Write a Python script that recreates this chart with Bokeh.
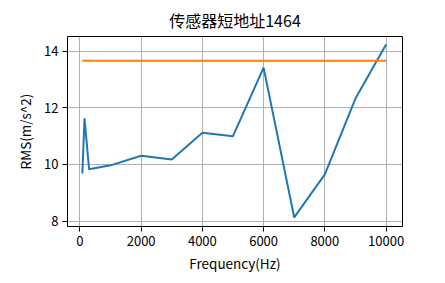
from bokeh.plotting import figure
from bokeh.models import Range1d, FixedTicker
from bokeh.embed import file_html
from bokeh.resources import INLINE

freq = [80, 150, 300, 1000, 2000, 3000, 4000, 5000, 6000, 7000, 8000, 9000, 10000]
rms = [9.68, 11.63, 9.83, 9.97, 10.31, 10.18, 11.12, 11.0, 13.42, 8.13, 9.65, 12.33, 14.24]
threshold = 13.66
x_ticks = [0, 2000, 4000, 6000, 8000, 10000]
y_ticks = [8, 10, 12, 14]

FONT = "Noto Sans CJK SC"

p = figure(width=445, height=283, output_backend="svg", toolbar_location=None,
           x_range=Range1d(-406, 10537), y_range=Range1d(7.81, 14.52),
           min_border_left=67, min_border_right=43, min_border_top=34, min_border_bottom=57)

p.title.text = "传感器短地址1464"
p.title.align = "center"
p.title.text_font = FONT
p.title.text_font_size = "16px"
p.title.text_font_style = "normal"
p.title.text_color = "black"

p.line(freq, rms, line_color="#1f77b4", line_width=2)
p.line([freq[0], freq[-1]], [threshold, threshold], line_color="#ff7f0e", line_width=2)

for ax in (p.xaxis[0], p.yaxis[0]):
    ax.major_label_text_font = FONT
    ax.major_label_text_font_size = "13px"
    ax.major_label_text_color = "black"
    ax.axis_label_text_font = FONT
    ax.axis_label_text_font_size = "13.5px"
    ax.axis_label_text_font_style = "normal"
    ax.axis_label_text_color = "black"
    ax.axis_line_color = None
    ax.major_tick_line_color = "black"
    ax.major_tick_out = 5
    ax.major_tick_in = 0
    ax.minor_tick_line_color = None

p.xaxis.ticker = FixedTicker(ticks=x_ticks)
p.yaxis.ticker = FixedTicker(ticks=y_ticks)
p.xaxis.axis_label = "Frequency(Hz)"
p.yaxis.axis_label = "RMS(m/s^2)"
p.xaxis.major_label_standoff = 4
p.yaxis.major_label_standoff = 4
p.xaxis.axis_label_standoff = 4
p.yaxis.axis_label_standoff = 6

p.xgrid.grid_line_color = "#b0b0b0"
p.ygrid.grid_line_color = "#b0b0b0"
p.xgrid.grid_line_width = 1
p.ygrid.grid_line_width = 1

p.outline_line_color = "black"
p.outline_line_width = 1
p.outline_line_alpha = 1
p.background_fill_color = "white"
p.border_fill_color = "white"

open("out.html", "w").write(file_html(p, INLINE))
